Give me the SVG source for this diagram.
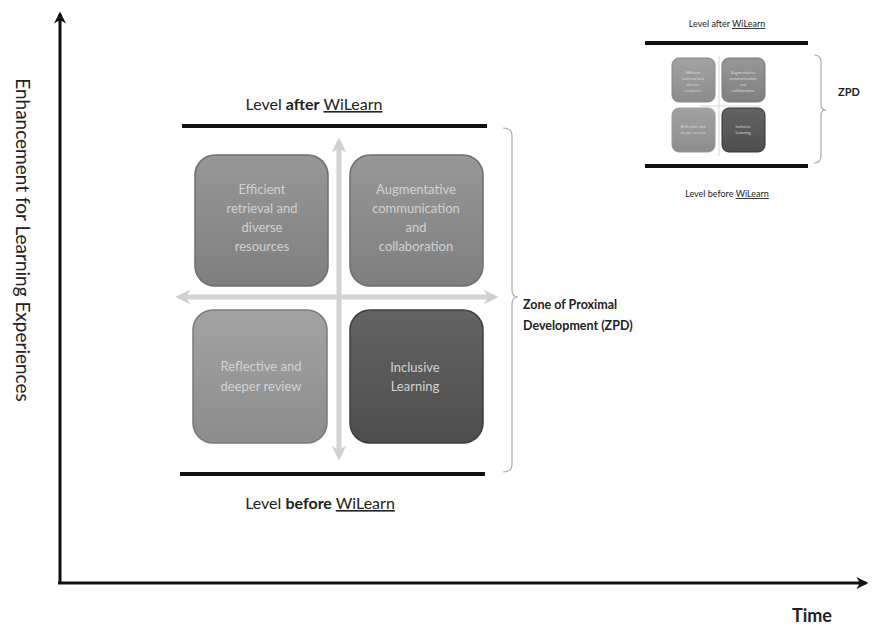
<svg xmlns="http://www.w3.org/2000/svg" width="872" height="629" viewBox="0 0 872 629">
<style>
.lbl{font-family:Lato,"Open Sans","Liberation Sans",sans-serif;fill:#222}
.box{font-family:Lato,"Open Sans","Liberation Sans",sans-serif;fill:#d2d2d2;font-size:13px;text-anchor:middle}
.sbox{font-family:Lato,"Open Sans","Liberation Sans",sans-serif;fill:#d8d8d8;font-size:4px;text-anchor:middle}
.lev{stroke:#111;stroke-width:4}
.ax{stroke:#111;stroke-width:3;fill:none}
.dbl{stroke:#d3d3d3;stroke-width:5;fill:none}
.brace{stroke:#aaa;stroke-width:1.2;fill:none}
.ul{text-decoration:underline}
</style>
<defs>
<linearGradient id="gMid" x1="0" y1="0" x2="0" y2="1"><stop offset="0" stop-color="#979797"/><stop offset="1" stop-color="#7f7f7f"/></linearGradient>
<linearGradient id="gLight" x1="0" y1="0" x2="0" y2="1"><stop offset="0" stop-color="#a3a3a3"/><stop offset="1" stop-color="#8c8c8c"/></linearGradient>
<linearGradient id="gDark" x1="0" y1="0" x2="0" y2="1"><stop offset="0" stop-color="#636363"/><stop offset="1" stop-color="#4e4e4e"/></linearGradient>
<marker id="ah" viewBox="0 0 10 10" refX="8" refY="5" markerWidth="4" markerHeight="4" orient="auto-start-reverse"><path d="M0,0 L10,5 L0,10 L3,5 z" fill="#111"/></marker>
<marker id="gh" viewBox="0 0 10 10" refX="7" refY="5" markerWidth="3" markerHeight="3" orient="auto-start-reverse"><path d="M0,0 L10,5 L0,10 L3,5 z" fill="#d0d0d0"/></marker>
</defs>
<rect width="872" height="629" fill="#fff"/>

<g id="connectors">
<path class="ax" d="M60,583 L60,14" marker-end="url(#ah)"/>
<path class="ax" d="M58,583 L866,583" marker-end="url(#ah)"/>
<path class="dbl" d="M180,297 L494,297" marker-start="url(#gh)" marker-end="url(#gh)"/>
<path class="dbl" d="M339,142 L339,456" marker-start="url(#gh)" marker-end="url(#gh)"/>
<path class="brace" d="M503,128 Q512,128 512,136 L512,290 Q512,297 518,297 Q512,297 512,304 L512,464 Q512,472 503,472"/>
<path class="brace" d="M814,55 Q821,55 821,62 L821,105 Q821,110 826,110 Q821,110 821,115 L821,156 Q821,163 814,163"/>
<path d="M700,106 L760,106 M719,56 L719,156" stroke="#e4e4e4" stroke-width="1.5" fill="none"/>
</g>

<g id="axis-labels">
<text class="lbl" transform="translate(16,240) rotate(90)" font-size="19" text-anchor="middle">Enhancement  for Learning Experiences</text>
<text class="lbl" x="812" y="622" font-size="18" font-weight="bold" text-anchor="middle">Time</text>
</g>

<g id="level-after">
<text class="lbl" x="314" y="110" font-size="16" text-anchor="middle">Level <tspan font-weight="bold">after</tspan> <tspan class="ul">WiLearn</tspan></text>
<line class="lev" x1="182" y1="126" x2="487" y2="126"/>
</g>
<g id="level-before">
<line class="lev" x1="180" y1="474" x2="485" y2="474"/>
<text class="lbl" x="320" y="509" font-size="16" text-anchor="middle">Level <tspan font-weight="bold">before</tspan> <tspan class="ul">WiLearn</tspan></text>
</g>

<g id="box-efficient">
<rect x="195" y="155" width="133" height="131" rx="20" fill="url(#gMid)" stroke="#6e6e6e" stroke-width="1.5"/>
<text class="box" x="262" y="194">Efficient</text>
<text class="box" x="262" y="213">retrieval and</text>
<text class="box" x="262" y="232">diverse</text>
<text class="box" x="262" y="251">resources</text>
</g>
<g id="box-augmentative">
<rect x="350" y="155" width="133" height="131" rx="20" fill="url(#gMid)" stroke="#6e6e6e" stroke-width="1.5"/>
<text class="box" x="416" y="194">Augmentative</text>
<text class="box" x="416" y="213">communication</text>
<text class="box" x="416" y="232">and</text>
<text class="box" x="416" y="251">collaboration</text>
</g>
<g id="box-reflective">
<rect x="193" y="310" width="134" height="133" rx="20" fill="url(#gLight)" stroke="#7a7a7a" stroke-width="1.5"/>
<text class="box" x="261" y="371">Reflective and</text>
<text class="box" x="261" y="391">deeper review</text>
</g>
<g id="box-inclusive">
<rect x="350" y="310" width="133" height="133" rx="20" fill="url(#gDark)" stroke="#3e3e3e" stroke-width="1.5"/>
<text class="box" x="415" y="372">Inclusive</text>
<text class="box" x="415" y="391">Learning</text>
</g>

<g id="zpd-label">
<text class="lbl" x="523" y="309" font-size="12.5" font-weight="bold">Zone of Proximal</text>
<text class="lbl" x="523" y="330" font-size="12.5" font-weight="bold">Development  (ZPD)</text>
</g>

<g id="inset">
<text class="lbl" x="727" y="27" font-size="9" text-anchor="middle" fill="#555">Level after <tspan class="ul">WiLearn</tspan></text>
<line class="lev" x1="645" y1="43" x2="808" y2="43" stroke-width="3.5"/>
<line class="lev" x1="645" y1="166" x2="808" y2="166" stroke-width="3.5"/>
<text class="lbl" x="727" y="197" font-size="9" text-anchor="middle" fill="#555">Level before <tspan class="ul">WiLearn</tspan></text>
<text class="lbl" x="838" y="96" font-size="11" font-weight="bold">ZPD</text>
</g>
<g id="inset-box-1">
<rect x="672" y="58" width="43" height="44" rx="7" fill="url(#gLight)" stroke="#888" stroke-width="1"/>
<text class="sbox" x="693" y="74">Efficient</text><text class="sbox" x="693" y="80">retrieval and</text><text class="sbox" x="693" y="86">diverse</text><text class="sbox" x="693" y="92">resources</text>
</g>
<g id="inset-box-2">
<rect x="722" y="58" width="43" height="44" rx="7" fill="url(#gMid)" stroke="#777" stroke-width="1"/>
<text class="sbox" x="743" y="74">Augmentative</text><text class="sbox" x="743" y="80">communication</text><text class="sbox" x="743" y="86">and</text><text class="sbox" x="743" y="92">collaboration</text>
</g>
<g id="inset-box-3">
<rect x="672" y="108" width="43" height="44" rx="7" fill="url(#gLight)" stroke="#999" stroke-width="1"/>
<text class="sbox" x="693" y="128">Reflective and</text><text class="sbox" x="693" y="134">deeper review</text>
</g>
<g id="inset-box-4">
<rect x="722" y="108" width="43" height="44" rx="7" fill="url(#gDark)" stroke="#333" stroke-width="1"/>
<text class="sbox" x="743" y="128">Inclusive</text><text class="sbox" x="743" y="134">Learning</text>
</g>
</svg>
